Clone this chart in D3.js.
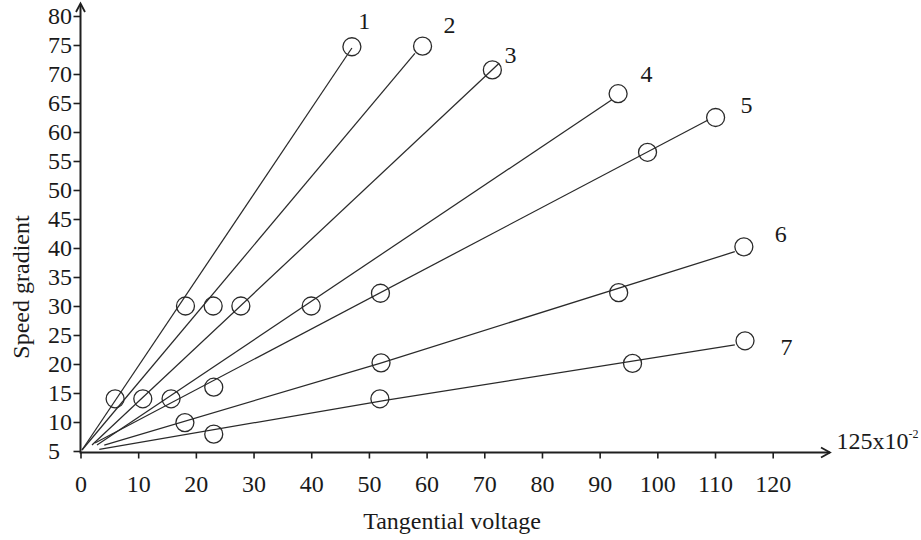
<!DOCTYPE html>
<html>
<head>
<meta charset="utf-8">
<script src="https://cdn.jsdelivr.net/npm/d3@7"></script>
<style>
  html, body { margin: 0; padding: 0; background: #ffffff; }
  svg { display: block; }
  text { font-family: "Liberation Serif", "DejaVu Serif", serif; fill: #1a1a1a; }
</style>
</head>
<body>
<svg id="chart" width="921" height="540"></svg>
<script>
// ---- data ----
const xTicks = [0, 10, 20, 30, 40, 50, 60, 70, 80, 90, 100, 110, 120];
const yTicks = [5, 10, 15, 20, 25, 30, 35, 40, 45, 50, 55, 60, 65, 70, 75, 80];

const series1 = [[6, 14], [18.2, 30], [47.05, 74.7]];
const series2 = [[10.8, 14], [23.0, 30], [59.3, 74.8]];
const series3 = [[15.7, 14], [27.8, 30], [71.4, 70.7]];
const series4 = [[23.1, 16], [40.0, 30], [93.2, 66.6]];
const series5 = [[52.0, 32.2], [98.3, 56.5], [110.1, 62.5]];
const series6 = [[18.1, 9.9], [52.1, 20.2], [93.3, 32.3], [115.0, 40.2]];
const series7 = [[23.1, 7.9], [51.9, 14], [95.7, 20.1], [115.2, 24.0]];

const line1 = [[0.26, 5.17], [47.05, 74.48]];
const line2 = [[0.26, 5.17], [57.97, 73.57]];
const line3 = [[1.99, 6.03], [72.58, 71.84]];
const line4 = [[2.86, 6.03], [92.06, 65.52]];
const line5 = [[2.51, 6.38], [108.8, 62.07]];
const line6 = [[4.12, 6.03], [51.9, 20.12], [113.43, 39.36]];
const line7 = [[3.26, 5.29], [53.07, 13.79], [113.43, 23.28]];

const lineNames = ["1", "2", "3", "4", "5", "6", "7"];
const labelPos = [[49.19, 77.71], [63.99, 77.12], [74.56, 71.84], [98.13, 68.67],
                  [115.46, 63.22], [121.4, 41.09], [122.4, 21.55]];

const xTitle = "Tangential voltage";
const yTitle = "Speed gradient";
const xUnit = "125x10";
const xUnitExp = "-2";

// ---- drawing ----
const svg = d3.select("#chart");
const x = d3.scaleLinear().domain([0, 120]).range([80.5, 772.7]);
const y = d3.scaleLinear().domain([5, 80]).range([451, 16]);
const axisY = 452.5;
const ink = "#1f1f1f";
const fontSize = 24;

// fit lines
const lines = [line1, line2, line3, line4, line5, line6, line7];
const lineGen = d3.line().x(d => x(d[0])).y(d => y(d[1]));
svg.append("g").selectAll("path").data(lines).join("path")
  .attr("d", lineGen)
  .attr("fill", "none")
  .attr("stroke", "#2a2a2a")
  .attr("stroke-width", 1.25);

// points (hollow circles)
const allSeries = [series1, series2, series3, series4, series5, series6, series7];
svg.append("g").selectAll("circle").data(allSeries.flat()).join("circle")
  .attr("cx", d => x(d[0]))
  .attr("cy", d => y(d[1]))
  .attr("r", 9)
  .attr("fill", "none")
  .attr("stroke", "#2a2a2a")
  .attr("stroke-width", 1.3);

// line number labels
svg.append("g").selectAll("text").data(lineNames).join("text")
  .attr("x", (d, i) => x(labelPos[i][0]))
  .attr("y", (d, i) => y(labelPos[i][1]))
  .attr("text-anchor", "middle")
  .attr("font-size", fontSize)
  .text(d => d);

// x axis
const xAxis = d3.axisBottom(x).tickValues(xTicks).tickSize(6).tickPadding(16).tickFormat(d3.format("d"));
const gx = svg.append("g").attr("transform", `translate(0,${axisY})`).call(xAxis);
gx.select(".domain").remove();
gx.selectAll(".tick line").attr("stroke", ink).attr("stroke-width", 1.6);
gx.selectAll(".tick text").attr("font-size", fontSize).attr("font-family", "Liberation Serif").attr("fill", ink);

// y axis
const yAxis = d3.axisLeft(y).tickValues(yTicks).tickSize(7).tickFormat(d3.format("d"));
const gy = svg.append("g").attr("transform", `translate(${x(0)},0)`).call(yAxis);
gy.select(".domain").remove();
gy.selectAll(".tick line").attr("stroke", ink).attr("stroke-width", 1.6);
gy.selectAll(".tick text")
  .attr("font-size", fontSize).attr("font-family", "Liberation Serif").attr("fill", ink)
  .attr("text-anchor", "start")
  .attr("x", 48 - x(0));

// axis lines with arrows
const x0 = x(0);
svg.append("path")
  .attr("d", `M${x0},${axisY} H830`)
  .attr("stroke", ink).attr("stroke-width", 2).attr("fill", "none");
svg.append("path")
  .attr("d", `M821,447.5 L830,${axisY} L821,457.5`)
  .attr("stroke", ink).attr("stroke-width", 1.8).attr("fill", "none");
svg.append("path")
  .attr("d", `M${x0},${axisY + 1} V4`)
  .attr("stroke", ink).attr("stroke-width", 2).attr("fill", "none");
svg.append("path")
  .attr("d", `M${x0 - 4.5},12 L${x0},3.5 L${x0 + 4.5},12`)
  .attr("stroke", ink).attr("stroke-width", 1.8).attr("fill", "none");

// unit label
const unit = svg.append("text")
  .attr("x", 836.5).attr("y", 449)
  .attr("font-size", 24);
unit.append("tspan").text(xUnit);
unit.append("tspan").attr("font-size", 12).attr("dy", -11).text(xUnitExp);

// titles
svg.append("text")
  .attr("x", 452).attr("y", 529)
  .attr("text-anchor", "middle")
  .attr("font-size", fontSize)
  .text(xTitle);
svg.append("text")
  .attr("transform", "translate(29,287) rotate(-90)")
  .attr("text-anchor", "middle")
  .attr("font-size", fontSize)
  .text(yTitle);
</script>
</body>
</html>
